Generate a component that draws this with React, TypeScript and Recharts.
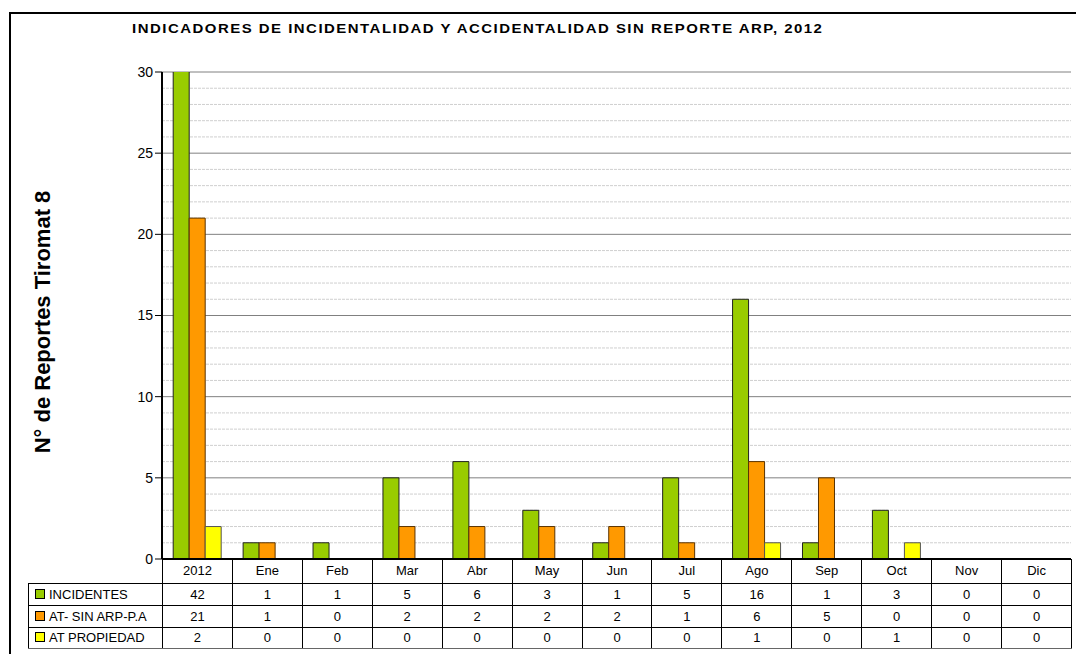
import React from 'react';
import { BarChart, Bar, XAxis, YAxis, CartesianGrid } from 'recharts';

const categories = ['2012', 'Ene', 'Feb', 'Mar', 'Abr', 'May', 'Jun', 'Jul', 'Ago', 'Sep', 'Oct', 'Nov', 'Dic'];
const incidentes = [42, 1, 1, 5, 6, 3, 1, 5, 16, 1, 3, 0, 0];
const atSinArp = [21, 1, 0, 2, 2, 2, 2, 1, 6, 5, 0, 0, 0];
const atPropiedad = [2, 0, 0, 0, 0, 0, 0, 0, 1, 0, 1, 0, 0];

const seriesNames = ['INCIDENTES', 'AT- SIN ARP-P.A', 'AT PROPIEDAD'];
const seriesColors = ['#99CC00', '#FF9900', '#FFFF00'];
const seriesValues = [incidentes, atSinArp, atPropiedad];

const majorTicks = [0, 5, 10, 15, 20, 25, 30];
const minorTicks = [1, 2, 3, 4, 6, 7, 8, 9, 11, 12, 13, 14, 16, 17, 18, 19, 21, 22, 23, 24, 26, 27, 28, 29];

const data = categories.map((name, i) => ({
    name,
    inc: incidentes[i],
    at: atSinArp[i],
    prop: atPropiedad[i],
}));

const FONT = '"Liberation Sans", Arial, sans-serif';
const PLOT_LEFT = 162;
const PLOT_RIGHT = 1071;
const TABLE_LEFT = 28;
const colW = (PLOT_RIGHT - PLOT_LEFT) / categories.length;

const cell: React.CSSProperties = {
    border: '1px solid #000',
    padding: 0,
    textAlign: 'center',
    fontSize: 13,
    overflow: 'hidden',
    whiteSpace: 'nowrap',
};

export default function App() {
    return (
        <div style={{ position: 'absolute', left: 0, top: 0, width: 1076, height: 654, background: '#fff', overflow: 'hidden', fontFamily: FONT }}>
            {/* outer frame */}
            <div style={{ position: 'absolute', left: 9, top: 12, width: 1100, height: 700, borderLeft: '2px solid #000', borderTop: '2px solid #000' }} />

            <div style={{
                position: 'absolute', left: 132, top: 21, fontSize: 13, fontWeight: 'bold', letterSpacing: 1.3,
                whiteSpace: 'nowrap', transform: 'scaleX(1.15)', transformOrigin: 'left center',
            }}>
                INDICADORES DE INCIDENTALIDAD Y ACCIDENTALIDAD SIN REPORTE ARP, 2012
            </div>

            <div style={{
                position: 'absolute', left: 43, top: 322, transform: 'translate(-50%, -50%) rotate(-90deg)',
                fontSize: 22, fontWeight: 'bold', whiteSpace: 'nowrap',
            }}>
                N° de Reportes Tiromat 8
            </div>

            <BarChart
                width={1076}
                height={654}
                data={data}
                margin={{ top: 72, right: 1076 - PLOT_RIGHT, bottom: 94, left: PLOT_LEFT - 40 }}
                barCategoryGap="16%"
                barGap={0}
                style={{ position: 'absolute', left: 0, top: 0 }}
            >
                <CartesianGrid vertical={false} horizontalValues={minorTicks} stroke="#cfcfcf" strokeDasharray="3 1" />
                <CartesianGrid vertical={false} horizontalValues={majorTicks} stroke="#808080" />
                <XAxis dataKey="name" tick={false} tickLine={false} height={1} axisLine={{ stroke: '#000', strokeWidth: 2 }} />
                <YAxis
                    width={40}
                    domain={[0, 30]}
                    allowDataOverflow
                    ticks={majorTicks}
                    interval={0}
                    axisLine={{ stroke: '#000', strokeWidth: 2 }}
                    tickLine={{ stroke: '#000' }}
                    tickSize={7}
                    tick={{ fontSize: 14, fill: '#000', fontFamily: FONT }}
                />
                <Bar dataKey="inc" fill={seriesColors[0]} stroke="#222" strokeWidth={1} isAnimationActive={false} />
                <Bar dataKey="at" fill={seriesColors[1]} stroke="#5a3300" strokeWidth={1} isAnimationActive={false} />
                <Bar dataKey="prop" fill={seriesColors[2]} stroke="#555" strokeWidth={1} isAnimationActive={false} />
            </BarChart>

            <table style={{
                position: 'absolute', left: TABLE_LEFT, top: 559, borderCollapse: 'collapse', tableLayout: 'fixed',
                width: PLOT_RIGHT - TABLE_LEFT, fontFamily: FONT,
            }}>
                <colgroup>
                    <col style={{ width: PLOT_LEFT - TABLE_LEFT }} />
                    {categories.map((c) => <col key={c} style={{ width: colW }} />)}
                </colgroup>
                <tbody>
                    <tr style={{ height: 24 }}>
                        <td style={{ padding: 0, border: 'none' }} />
                        {categories.map((c) => (
                            <td key={c} style={{ ...cell, borderTop: 'none' }}>{c}</td>
                        ))}
                    </tr>
                    {seriesNames.map((s, si) => (
                        <tr key={s} style={{ height: si === 2 ? 21 : 22 }}>
                            <td style={{ ...cell, textAlign: 'left', paddingLeft: 6, borderBottom: si === 2 ? '1px solid #666' : cell.border }}>
                                <span style={{ display: 'inline-block', width: 8, height: 8, border: '1px solid #000', background: seriesColors[si], marginRight: 4, verticalAlign: '0px' }} />
                                {s}
                            </td>
                            {seriesValues[si].map((v, i) => (
                                <td key={i} style={{ ...cell, borderBottom: si === 2 ? '1px solid #666' : cell.border }}>{v}</td>
                            ))}
                        </tr>
                    ))}
                </tbody>
            </table>
        </div>
    );
}
